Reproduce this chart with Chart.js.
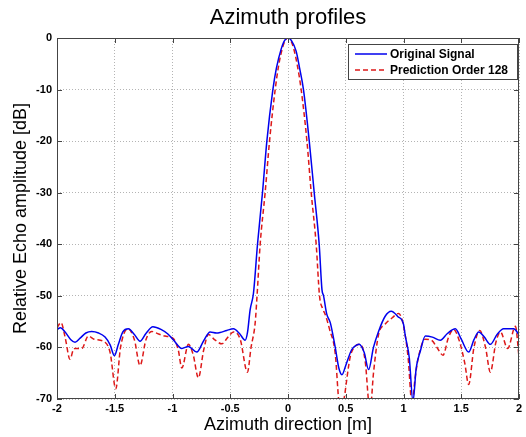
<!DOCTYPE html>
<html>
<head>
<meta charset="utf-8">
<script src="https://cdn.jsdelivr.net/npm/chart.js@4"></script>
<style>
  body { margin: 0; background: #fff; }
  #wrap { width: 526px; height: 437px; }
</style>
</head>
<body>
<div id="wrap"><canvas id="azchart" width="526" height="437"></canvas></div>
<script>
// Original signal (blue solid)
const origX = [-2.00, -1.97, -1.93, -1.88, -1.844, -1.80, -1.75, -1.70, -1.64, -1.584, -1.54, -1.503, -1.47, -1.43, -1.382,
  -1.33, -1.281, -1.23, -1.17, -1.10, -1.04, -0.99, -0.919, -0.862, -0.79, -0.73, -0.674, -0.62, -0.588, -0.53, -0.472,
  -0.42, -0.371, -0.35, -0.328, -0.299, -0.264, -0.221, -0.183, -0.131, -0.1, -0.06, -0.03, 0, 0.03, 0.071, 0.1, 0.134,
  0.184, 0.227, 0.27, 0.294, 0.308, 0.335, 0.366, 0.409, 0.44, 0.467, 0.50, 0.55, 0.597, 0.615, 0.66, 0.698, 0.74,
  0.784, 0.84, 0.894, 0.95, 1.0, 1.016, 1.05, 1.082, 1.11, 1.146, 1.189, 1.25, 1.319, 1.38, 1.449, 1.50, 1.564, 1.61,
  1.651, 1.70, 1.752, 1.81, 1.867, 1.954, 2.0];
const origDb = [-56.5, -56.2, -57.0, -58.5, -59.0, -58.2, -57.2, -56.9, -57.2, -58.0, -59.5, -61.6, -59.5, -57.0, -56.4,
  -57.5, -58.8, -57.3, -56.0, -56.5, -57.4, -58.6, -60.2, -59.8, -60.9, -58.7, -57.0, -57.2, -57.1, -56.7, -56.4,
  -57.3, -58.6, -57.0, -52.7, -49.5, -40, -30, -20, -10, -5.8, -2.2, -0.5, 0, -0.5, -2.6, -5.8, -10,
  -20, -30, -40, -48.8, -50, -53.5, -55.2, -60, -64, -65.3, -63.5, -60.5, -59.5, -59.4, -61, -64.3, -60,
  -56.9, -54, -53.0, -54, -55.5, -57.8, -62, -70.5, -64, -60.7, -57.8, -58.0, -58.6, -57.3, -56.4, -58.4, -60.9, -58.5,
  -57.0, -58, -59.4, -57.5, -56.4, -56.4, -57.5];

// Prediction order 128 (red dashed)
const predX = [-2.00, -1.965, -1.93, -1.887, -1.86, -1.844, -1.786, -1.729, -1.68, -1.584, -1.54, -1.491, -1.45, -1.387,
  -1.33, -1.281, -1.23, -1.18, -1.12, -1.064, -0.992, -0.95, -0.919, -0.862, -0.82, -0.776, -0.73, -0.689, -0.63, -0.573,
  -0.52, -0.472, -0.414, -0.351, -0.32, -0.284, -0.268, -0.241, -0.198, -0.160, -0.111, -0.08, -0.05, -0.025, 0, 0.025,
  0.05, 0.08, 0.114, 0.164, 0.201, 0.244, 0.273, 0.30, 0.322, 0.36, 0.409, 0.44, 0.46, 0.482, 0.539, 0.58, 0.626, 0.67,
  0.70, 0.712, 0.74, 0.784, 0.84, 0.9, 0.958, 1.0, 1.04, 1.074, 1.10, 1.13, 1.189, 1.247, 1.29, 1.342, 1.39, 1.434, 1.48,
  1.53, 1.564, 1.61, 1.66, 1.71, 1.752, 1.80, 1.839, 1.902, 1.969, 2.0];
const predDb = [-56.2, -55.2, -58, -62.3, -60.5, -60.2, -60.2, -57.8, -58.4, -59.0, -61, -68.0, -60, -56.4,
  -58.5, -63.5, -58.5, -56.9, -57.4, -57.8, -58.3, -60.5, -64.0, -59.4, -61.5, -65.9, -60.5, -57.5, -58.6, -59.3,
  -58, -57.0, -58.4, -64.8, -60, -55.2, -50, -40, -30, -20, -10, -5.2, -2.1, -0.5, 0, -0.5,
  -2.1, -5.2, -10, -20, -30, -40, -50, -52.5, -53.6, -56.5, -61.2, -70.5, -73, -70.5, -61.8, -59.8, -59.4, -63,
  -71, -72, -65, -57.5, -55.5, -54.3, -53.4, -55.8, -62, -71, -66, -61.8, -58.4, -58.7, -60, -61.5, -58, -56.5, -58.5,
  -63, -67.2, -60, -56.7, -60, -64.8, -59, -57.0, -60.2, -55.9, -61.8];

const xTicks = [-2, -1.5, -1, -0.5, 0, 0.5, 1, 1.5, 2];
const yTicks = [-70, -60, -50, -40, -30, -20, -10, 0];

const legendNames = ['Original Signal', 'Prediction Order 128'];
const lineColors = ['#0000ee', '#dd1818'];

function toPoints(xs, ys) {
  const pts = [];
  for (var i = 0; i < xs.length; i++) pts.push({x: xs[i], y: ys[i]});
  return pts;
}

// box, inward ticks, title and legend drawn like the matlab figure
const matlabDecor = {
  id: 'matlabDecor',
  afterDatasetsDraw(chart) {
    const ctx = chart.ctx;
    const a = chart.chartArea;
    const xs = chart.scales.x, ys = chart.scales.y;
    ctx.save();
    ctx.strokeStyle = '#444';
    ctx.lineWidth = 1;
    ctx.strokeRect(a.left + 0.5, a.top + 0.5, a.right - a.left - 1, a.bottom - a.top - 1);
    ctx.beginPath();
    xTicks.forEach(v => {
      const px = Math.round(xs.getPixelForValue(v)) + 0.5;
      ctx.moveTo(px, a.bottom); ctx.lineTo(px, a.bottom - 5);
      ctx.moveTo(px, a.top); ctx.lineTo(px, a.top + 5);
    });
    yTicks.forEach(v => {
      const py = Math.round(ys.getPixelForValue(v)) + 0.5;
      ctx.moveTo(a.left, py); ctx.lineTo(a.left + 5, py);
      ctx.moveTo(a.right, py); ctx.lineTo(a.right - 5, py);
    });
    ctx.stroke();

    // title
    ctx.fillStyle = '#000';
    ctx.font = '22px "Liberation Sans", Arial, sans-serif';
    ctx.textAlign = 'center';
    ctx.textBaseline = 'middle';
    ctx.fillText('Azimuth profiles', (a.left + a.right) / 2, 18);

    // legend
    const lx = 348, ly = 44, lw = 169, lh = 35;
    ctx.fillStyle = '#fff';
    ctx.fillRect(lx, ly, lw, lh);
    ctx.strokeStyle = '#444';
    ctx.strokeRect(lx + 0.5, ly + 0.5, lw, lh);
    ctx.font = 'bold 12px "Liberation Sans", Arial, sans-serif';
    ctx.textAlign = 'left';
    for (var i = 0; i < 2; i++) {
      const yy = ly + 10 + i * 16;
      ctx.strokeStyle = lineColors[i];
      ctx.lineWidth = 1.5;
      ctx.setLineDash(i == 1 ? [5, 3] : []);
      ctx.beginPath();
      ctx.moveTo(355, yy); ctx.lineTo(387, yy);
      ctx.stroke();
      ctx.setLineDash([]);
      ctx.fillStyle = '#000';
      ctx.fillText(legendNames[i], 390, yy + 1);
    }
    ctx.restore();
  }
};

new Chart(document.getElementById('azchart'), {
  type: 'scatter',
  data: {
    datasets: [{
      label: legendNames[0],
      data: toPoints(origX, origDb),
      showLine: true,
      borderColor: lineColors[0],
      borderWidth: 1.5,
      pointRadius: 0,
      cubicInterpolationMode: 'monotone'
    }, {
      label: legendNames[1],
      data: toPoints(predX, predDb),
      showLine: true,
      borderColor: lineColors[1],
      borderWidth: 1.5,
      borderDash: [5, 3],
      pointRadius: 0,
      cubicInterpolationMode: 'monotone'
    }]
  },
  options: {
    responsive: false,
    animation: false,
    layout: { padding: { top: 38, right: 7, left: 0, bottom: 0 } },
    plugins: {
      legend: { display: false },
      title: { display: false },
      tooltip: { enabled: false }
    },
    scales: {
      x: {
        type: 'linear',
        min: -2, max: 2,
        afterFit: s => { s.height = 38; },
        afterBuildTicks: s => { s.ticks = xTicks.map(v => ({value: v})); },
        ticks: {
          padding: 3,
          color: '#000',
          font: { family: '"Liberation Sans", Arial, sans-serif', size: 11, weight: 'bold' },
          callback: v => String(v),
          maxRotation: 0
        },
        grid: { color: '#b4b4b4', drawTicks: false },
        border: { display: false, dash: [1, 2] },
        title: {
          display: true,
          text: 'Azimuth direction [m]',
          color: '#000',
          font: { family: '"Liberation Sans", Arial, sans-serif', size: 18 },
          padding: { top: 0, bottom: 1 }
        }
      },
      y: {
        type: 'linear',
        min: -70, max: 0,
        afterFit: s => { s.width = 57; },
        afterBuildTicks: s => { s.ticks = yTicks.map(v => ({value: v})); },
        ticks: {
          padding: 5,
          color: '#000',
          font: { family: '"Liberation Sans", Arial, sans-serif', size: 11, weight: 'bold' },
          callback: v => String(v)
        },
        grid: { color: '#b4b4b4', drawTicks: false },
        border: { display: false, dash: [1, 2] },
        title: {
          display: true,
          text: 'Relative Echo amplitude [dB]',
          color: '#000',
          font: { family: '"Liberation Sans", Arial, sans-serif', size: 18 },
          padding: { top: 10, bottom: 0 }
        }
      }
    }
  },
  plugins: [matlabDecor]
});
</script>
</body>
</html>
